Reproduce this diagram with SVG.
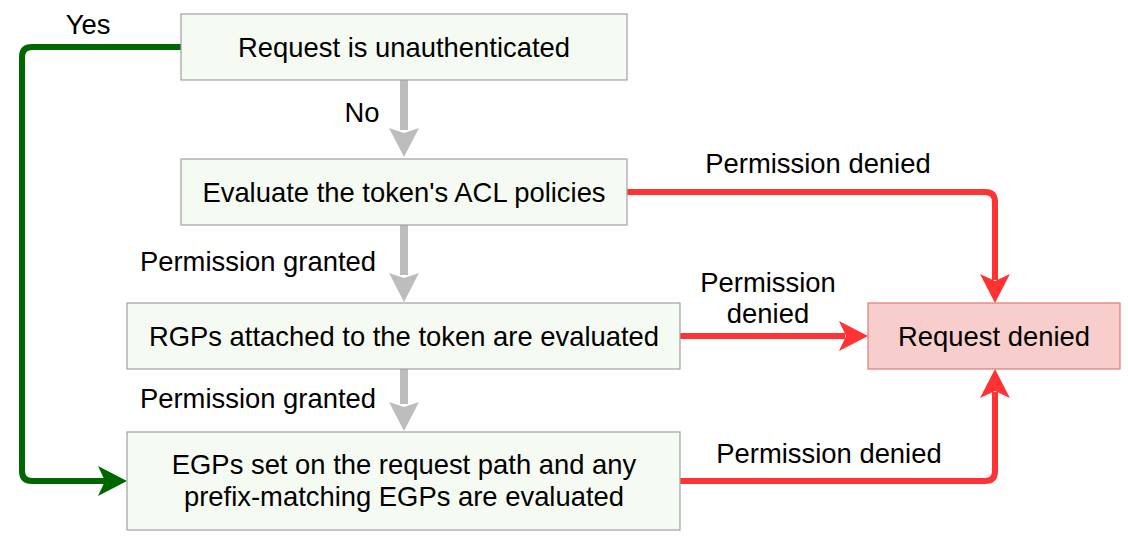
<svg xmlns="http://www.w3.org/2000/svg" width="1128" height="538" viewBox="0 0 1128 538">
<style>
.box{fill:#f5fbf3;stroke:#a0a0a0;stroke-width:1.2}
.den{fill:#f8cecc;stroke:#e07a76;stroke-width:1.2}
text{font-family:"Liberation Sans",Arial,sans-serif;font-size:27.4px;fill:#000;text-anchor:middle}
.red{fill:none;stroke:#ff3333;stroke-width:6;stroke-linejoin:round}
.gray{fill:none;stroke:#bdbdbd;stroke-width:8}
.green{fill:none;stroke:#006600;stroke-width:6;stroke-linejoin:round}
</style>
<rect width="1128" height="538" fill="#fff"/>
<g id="connectors">
<path class="green" d="M181,47 H32 Q22,47 22,57 V471 Q22,481 32,481 H105"/>
<polygon points="127,481 98,466 105,481 98,496" fill="#006600"/>
<path class="gray" d="M404,80 V130"/>
<polygon points="404,157 389,128 404,133 419,128" fill="#bdbdbd"/>
<path class="gray" d="M404,225 V275"/>
<polygon points="404,302 389,273 404,278 419,273" fill="#bdbdbd"/>
<path class="gray" d="M404,369 V404"/>
<polygon points="404,431 389,402 404,407 419,402" fill="#bdbdbd"/>
<path class="red" d="M627,192 H985 Q995,192 995,202 V280"/>
<polygon points="995,303 980,274 995,281 1010,274" fill="#ff3333"/>
<path class="red" d="M680,336 H845"/>
<polygon points="868,336 839,321 846,336 839,351" fill="#ff3333"/>
<path class="red" d="M680,481 H985 Q995,481 995,471 V392"/>
<polygon points="995,369 980,398 995,391 1010,398" fill="#ff3333"/>
</g>
<g id="labels">
<text x="88" y="34">Yes</text>
<text x="362" y="122">No</text>
<text x="818" y="173">Permission denied</text>
<text x="258" y="271">Permission granted</text>
<text x="768" y="292">Permission</text>
<text x="768" y="323">denied</text>
<text x="258" y="408">Permission granted</text>
<text x="829" y="463">Permission denied</text>
</g>
<g id="n1"><rect class="box" x="181" y="14" width="446" height="66"/><text x="404" y="57">Request is unauthenticated</text></g>
<g id="n2"><rect class="box" x="181" y="159" width="446" height="66"/><text x="404" y="202">Evaluate the token's ACL policies</text></g>
<g id="n3"><rect class="box" x="127" y="303" width="553" height="66"/><text x="404" y="346">RGPs attached to the token are evaluated</text></g>
<g id="n4"><rect class="box" x="127" y="432" width="553" height="98"/><text x="404" y="474">EGPs set on the request path and any</text><text x="404" y="506">prefix-matching EGPs are evaluated</text></g>
<g id="n5"><rect class="den" x="868" y="303" width="252" height="66"/><text x="994" y="346">Request denied</text></g>
</svg>
